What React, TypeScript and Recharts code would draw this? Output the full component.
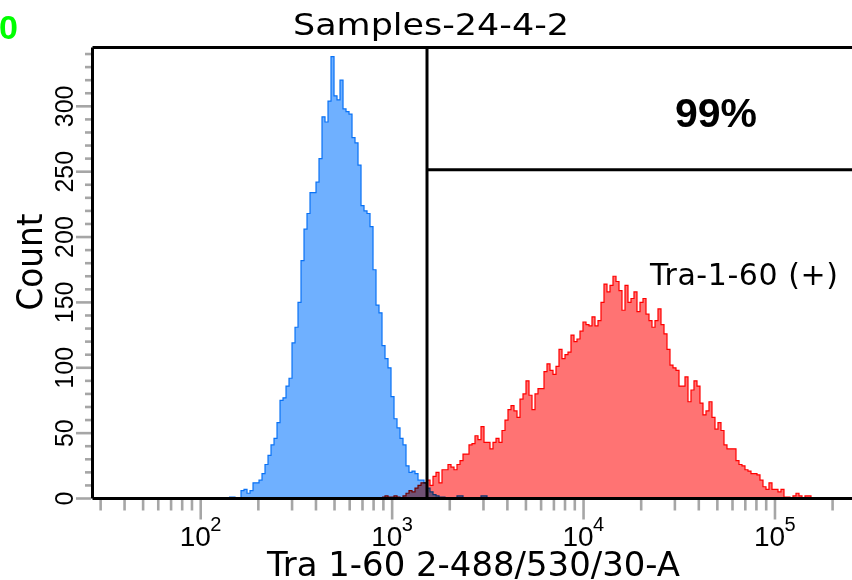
import React from 'react';
import { ComposedChart, Area, XAxis, YAxis, ReferenceLine } from 'recharts';

// ---- text ----
const TITLE = 'Samples-24-4-2';
const X_LABEL = 'Tra 1-60 2-488/530/30-A';
const Y_LABEL = 'Count';
const GATE_LABEL = 'Tra-1-60 (+)';
const GATE_PERCENT = '99%';
const CORNER_MARK = '0';

// ---- histogram binning (log10 of fluorescence) ----
const BIN_START_LOG = 2.1478;
const BIN_WIDTH_LOG = 0.015672;
const BIN_COUNT = 196;

// ---- series: counts per bin ----
const BLUE_START_BIN = 0;
const blueCounts = [
  1, 1, 0, 0, 6, 7, 4, 6, 12, 12,
  14, 19, 26, 33, 41, 46, 58, 75, 77, 86,
  92, 119, 131, 150, 182, 206, 218, 234, 234, 242,
  260, 292, 288, 304, 338, 308, 305, 320, 298, 296,
  294, 276, 272, 255, 224, 220, 218, 208, 175, 148,
  142, 117, 107, 100, 78, 61, 54, 46, 41, 25,
  20, 21, 19, 14, 14, 12, 8, 5, 3, 2,
  1, 1, 0, 0, 0, 0, 2, 2, 0, 0,
  0, 0, 0, 0, 2, 2, 0,
];

const RED_START_BIN = 51;
const redCounts = [
  1, 2, 1, 1, 2, 1, 0, 2, 4, 6,
  5, 8, 10, 12, 12, 14, 10, 17, 20, 12,
  22, 22, 26, 24, 22, 26, 29, 34, 34, 41,
  42, 48, 45, 55, 43, 43, 38, 43, 46, 43,
  52, 60, 68, 71, 67, 62, 76, 80, 90, 79,
  68, 80, 84, 84, 97, 103, 98, 95, 101, 114,
  107, 110, 112, 125, 120, 122, 128, 135, 133, 132,
  139, 132, 136, 150, 164, 158, 163, 170, 166, 159,
  144, 163, 150, 153, 158, 143, 150, 153, 141, 136,
  131, 136, 145, 133, 126, 114, 102, 100, 98, 86,
  86, 93, 74, 83, 90, 86, 73, 64, 67, 74,
  62, 53, 58, 52, 41, 38, 38, 38, 29, 26,
  25, 22, 21, 19, 19, 18, 14, 9, 7, 12,
  7, 7, 5, 7, 1, 1, 0, 2, 4, 2,
  0, 2, 2, 0, 0,
];

// ---- axes ----
const X_DOMAIN = [27.2, 252600];
const Y_DOMAIN = [0, 345];
const xTicks = [
  30, 40, 50, 60, 70, 80, 90,
  100, 200, 300, 400, 500, 600, 700, 800, 900,
  1000, 2000, 3000, 4000, 5000, 6000, 7000, 8000, 9000,
  10000, 20000, 30000, 40000, 50000, 60000, 70000, 80000, 90000,
  100000, 200000,
];
const xMajorTicks = [100, 1000, 10000, 100000];
const yTicks = [
  0, 10, 20, 30, 40, 50, 60, 70, 80, 90, 100, 110, 120, 130, 140, 150, 160, 170,
  180, 190, 200, 210, 220, 230, 240, 250, 260, 270, 280, 290, 300, 310, 320, 330, 340,
];
const yMajorTicks = [0, 50, 100, 150, 200, 250, 300];

// ---- gate ----
const GATE_X = 1521;
const GATE_Y = 251.5;

const rows = Array.from({ length: BIN_COUNT }, (_, k) => {
  const b = blueCounts[k - BLUE_START_BIN];
  const r = redCounts[k - RED_START_BIN];
  return {
    x: Math.pow(10, BIN_START_LOG + k * BIN_WIDTH_LOG),
    blue: b === undefined ? null : b,
    red: r === undefined ? null : r,
  };
});

const TICK_GRAY = '#a6a6a6';

const XTick = (props: any) => {
  const { x, y, payload } = props;
  const v = payload.value;
  const major = xMajorTicks.includes(v);
  const exp = Math.round(Math.log10(v));
  return (
    <g>
      <line x1={x} x2={x} y1={y + 1.5} y2={y + (major ? 21 : 12)} stroke={TICK_GRAY} strokeWidth={2.6} />
      {major && (
        <g>
          <text x={x - 21} y={y + 47} fontFamily="Liberation Sans" fontSize={28} fill="#000">10</text>
          <text x={x + 9.5} y={y + 32} fontFamily="Liberation Sans" fontSize={20} fill="#000">{exp}</text>
        </g>
      )}
    </g>
  );
};

const YTick = (props: any) => {
  const { x, y, payload } = props;
  const v = payload.value;
  const major = yMajorTicks.includes(v);
  const lx = x - 19.2;
  return (
    <g>
      <line x1={x - 1.5} x2={x - (major ? 16.5 : 7.5)} y1={y} y2={y} stroke={TICK_GRAY} strokeWidth={2.6} />
      {major && (
        <text
          x={lx}
          y={y}
          transform={`rotate(-90 ${lx} ${y})`}
          textAnchor="middle"
          fontFamily="Liberation Sans"
          fontSize={25}
          fill="#000"
        >
          {v}
        </text>
      )}
    </g>
  );
};

export default function App() {
  return (
    <div style={{ position: 'absolute', left: 0, top: 0, width: 852, height: 580, background: '#fff', overflow: 'hidden' }}>
      <style>{`.blend-multiply { mix-blend-mode: multiply; }`}</style>
      <ComposedChart width={852} height={580} data={rows} margin={{ top: 47.5, right: 0, bottom: 0, left: 0 }}>
        <XAxis
          dataKey="x"
          type="number"
          scale="log"
          domain={X_DOMAIN}
          allowDataOverflow
          ticks={xTicks}
          interval={0}
          tickSize={0}
          tickMargin={0}
          tickLine={false}
          tick={<XTick />}
          height={81.5}
          axisLine={{ stroke: '#000', strokeWidth: 3 }}
        />
        <YAxis
          type="number"
          domain={Y_DOMAIN}
          allowDataOverflow
          ticks={yTicks}
          interval={0}
          tickSize={0}
          tickMargin={0}
          tickLine={false}
          tick={<YTick />}
          width={92.5}
          axisLine={{ stroke: '#000', strokeWidth: 3 }}
        />
        <Area
          type="stepAfter"
          dataKey="red"
          fill="#ff7373"
          fillOpacity={1}
          stroke="#ff0000"
          strokeWidth={1.2}
          dot={false}
          activeDot={false}
          isAnimationActive={false}
        />
        <Area
          className="blend-multiply"
          type="stepAfter"
          dataKey="blue"
          fill="#6fb0ff"
          fillOpacity={1}
          stroke="#0a72f5"
          strokeWidth={1.2}
          dot={false}
          activeDot={false}
          isAnimationActive={false}
        />
        <ReferenceLine y={Y_DOMAIN[1]} stroke="#000" strokeWidth={3} />
        <ReferenceLine x={GATE_X} stroke="#000" strokeWidth={3} />
        <ReferenceLine
          segment={[{ x: GATE_X, y: GATE_Y }, { x: X_DOMAIN[1], y: GATE_Y }]}
          stroke="#000"
          strokeWidth={3}
        />
      </ComposedChart>
      <svg width={852} height={580} style={{ position: 'absolute', left: 0, top: 0, pointerEvents: 'none' }}>
        <text x={-1} y={39} fontFamily="Liberation Sans" fontWeight="bold" fontSize={34} fill="#00ff00">{CORNER_MARK}</text>
        <text x={293} y={35} fontFamily="DejaVu Sans" fontSize={30} fill="#000" textLength={276} lengthAdjust="spacingAndGlyphs">{TITLE}</text>
        <text x={675} y={127} fontFamily="Liberation Sans" fontWeight="bold" fontSize={41} fill="#000" textLength={82} lengthAdjust="spacingAndGlyphs">{GATE_PERCENT}</text>
        <text x={650} y={285} fontFamily="DejaVu Sans" fontSize={30} fill="#000" textLength={188} lengthAdjust="spacing">{GATE_LABEL}</text>
        <text x={267} y={576} fontFamily="DejaVu Sans" fontSize={33} fill="#000" textLength={413} lengthAdjust="spacingAndGlyphs">{X_LABEL}</text>
        <text x={42} y={262} transform="rotate(-90 42 262)" textAnchor="middle" fontFamily="DejaVu Sans" fontSize={36} fill="#000" textLength={97} lengthAdjust="spacingAndGlyphs">{Y_LABEL}</text>
      </svg>
    </div>
  );
}
